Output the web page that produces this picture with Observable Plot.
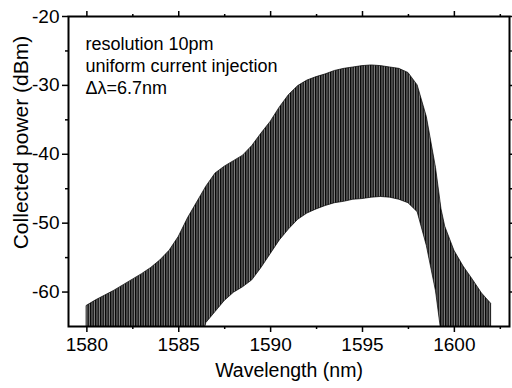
<!DOCTYPE html>
<html>
<head>
<meta charset="utf-8">
<script src="https://cdn.jsdelivr.net/npm/d3@7"></script>
<script src="https://cdn.jsdelivr.net/npm/@observablehq/plot@0.6"></script>
<style>
  html, body { margin: 0; padding: 0; background: white; }
  #chart svg { display: block; }
</style>
</head>
<body>
<div id="chart"></div>
<script>
// Wavelength samples (nm) of the measured fringe spectrum
const wavelength = [1580, 1580.5, 1581, 1581.5, 1582, 1582.5, 1583, 1583.5, 1584, 1584.5,
  1585, 1585.5, 1586, 1586.5, 1587, 1587.5, 1588, 1588.5, 1589, 1589.5,
  1590, 1590.5, 1591, 1591.5, 1592, 1592.5, 1593, 1593.5, 1594, 1594.5,
  1595, 1595.5, 1596, 1596.5, 1597, 1597.5, 1598, 1598.5, 1599, 1599.3,
  1599.5, 1600, 1600.5, 1601, 1601.5, 1602];
// Upper envelope of the fringes (fringe maxima, dBm)
const upperEnvelope = [-62.0, -61.2, -60.5, -59.8, -59.0, -58.2, -57.4, -56.5, -55.4, -54.0,
  -52.0, -49.3, -47.0, -44.7, -42.8, -41.8, -41.0, -40.2, -38.8, -37.0,
  -35.3, -33.2, -31.4, -30.1, -29.3, -28.8, -28.4, -27.9, -27.6, -27.4,
  -27.2, -27.1, -27.2, -27.4, -27.6, -28.2, -30.0, -34.6, -42.0, -48.0,
  -50.5, -54.0, -56.3, -58.2, -60.2, -61.7];
// Lower envelope of the fringes (fringe minima, dBm; below -65 is off the axis)
const lowerEnvelope = [-70, -70, -70, -70, -70, -70, -70, -70, -70, -70,
  -70, -70, -70, -64.5, -62.9, -61.3, -60.1, -59.3, -58.3, -56.5,
  -54.5, -52.5, -50.9, -49.5, -48.6, -48.0, -47.5, -47.1, -46.9, -46.6,
  -46.5, -46.3, -46.2, -46.3, -46.6, -47.1, -48.4, -53.3, -59.9, -66.0,
  -70, -70, -70, -70, -70, -70];

const xTicks = [1580, 1585, 1590, 1595, 1600];
const xMinorTicks = [1582.5, 1587.5, 1592.5, 1597.5, 1602.5];
const yTicks = [-60, -50, -40, -30, -20];
const yMinorTicks = [-55, -45, -35, -25];

const xLabel = "Wavelength (nm)";
const yLabel = "Collected power (dBm)";
const notes = ["resolution 10pm", "uniform current injection", "\u0394\u03bb=6.7nm"];

const data = wavelength.map((w, i) => ({w, hi: upperEnvelope[i], lo: lowerEnvelope[i]}));

const font = "'Liberation Sans', Arial, Helvetica, sans-serif";
const blank = () => "";

const chart = Plot.plot({
  width: 512,
  height: 388,
  marginLeft: 68,
  marginRight: 3,
  marginTop: 16,
  marginBottom: 62,
  style: {fontFamily: font, background: "white", color: "black", overflow: "visible"},
  x: {domain: [1579, 1603]},
  y: {domain: [-65, -20]},
  marks: [
    Plot.areaY(data, {x: "w", y1: "lo", y2: "hi", fill: "url(#fringes)", stroke: "#000", strokeWidth: 0.7, clip: true}),
    Plot.frame({stroke: "black", strokeWidth: 2}),
    Plot.axisX(xTicks, {anchor: "bottom", tickSize: 6, tickPadding: 5, fontSize: 19, strokeWidth: 1.5, tickFormat: d => String(d), label: null}),
    Plot.axisX(xMinorTicks, {anchor: "bottom", tickSize: 3, strokeWidth: 1.5, tickFormat: blank, label: null}),
    Plot.axisX(xTicks, {anchor: "top", tickSize: 6, strokeWidth: 1.5, tickFormat: blank, label: null}),
    Plot.axisX(xMinorTicks, {anchor: "top", tickSize: 3, strokeWidth: 1.5, tickFormat: blank, label: null}),
    Plot.axisY(yTicks, {anchor: "left", tickSize: 6, tickPadding: 3, fontSize: 19, strokeWidth: 1.5, tickFormat: d => String(d), label: null}),
    Plot.axisY(yMinorTicks, {anchor: "left", tickSize: 3, strokeWidth: 1.5, tickFormat: blank, label: null}),
    Plot.axisY(yTicks, {anchor: "right", tickSize: 6, strokeWidth: 1.5, tickFormat: blank, label: null}),
    Plot.axisY(yMinorTicks, {anchor: "right", tickSize: 3, strokeWidth: 1.5, tickFormat: blank, label: null}),
    Plot.text([xLabel], {frameAnchor: "bottom", dy: 50, fontSize: 19.5, textAnchor: "middle", fill: "black"}),
    Plot.text([yLabel], {frameAnchor: "left", dx: -47.5, dy: -29, rotate: -90, textAnchor: "middle", fontSize: 21, fill: "black"}),
    Plot.text([notes.join("\n")], {frameAnchor: "top-left", dx: 17, dy: 18, lineAnchor: "top", textAnchor: "start", lineHeight: 1.22, fontSize: 18, fill: "black"})
  ]
});

// fringe texture used as the area's fill
const ns = "http://www.w3.org/2000/svg";
const defs = document.createElementNS(ns, "defs");
const pat = document.createElementNS(ns, "pattern");
pat.setAttribute("id", "fringes");
pat.setAttribute("patternUnits", "userSpaceOnUse");
pat.setAttribute("width", "2.5");
pat.setAttribute("height", "8");
const bg = document.createElementNS(ns, "rect");
bg.setAttribute("width", "2.5"); bg.setAttribute("height", "8"); bg.setAttribute("fill", "#858585");
const ln = document.createElementNS(ns, "rect");
ln.setAttribute("width", "1.4"); ln.setAttribute("height", "8"); ln.setAttribute("fill", "#050505");
pat.appendChild(bg); pat.appendChild(ln);
defs.appendChild(pat);
chart.insertBefore(defs, chart.firstChild);

document.getElementById("chart").appendChild(chart);
</script>
</body>
</html>
